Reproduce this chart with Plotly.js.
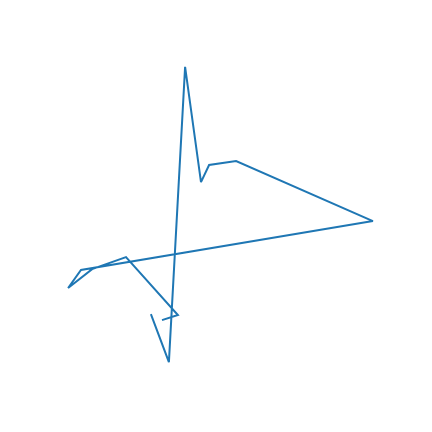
<!DOCTYPE html>
<html>
<head>
<meta charset="utf-8">
<script src="https://cdn.plot.ly/plotly-3.0.1.min.js"></script>
<style>html,body{margin:0;padding:0;background:#fff;}#chart{width:432px;height:432px;}</style>
</head>
<body>
<div id="chart"></div>
<script>
const xValues = [-2.17, -1.57, -1.03, -0.5, -0.23, 0.67, 5.23, -4.5, -4.93, -4.13, -3.0, -1.27, -1.8];
const yValues = [-3.27, -4.87, 4.97, 1.13, 1.7, 1.83, -0.17, -1.8, -2.4, -1.77, -1.37, -3.3, -3.47];

Plotly.newPlot('chart', [{
  x: xValues,
  y: yValues,
  type: 'scatter',
  mode: 'lines',
  line: {color: '#1f77b4', width: 2},
  hoverinfo: 'skip'
}], {
  width: 432,
  height: 432,
  margin: {l: 0, r: 0, t: 0, b: 0},
  paper_bgcolor: '#ffffff',
  plot_bgcolor: '#ffffff',
  showlegend: false,
  xaxis: {range: [-7.2, 7.2], visible: false},
  yaxis: {range: [-7.2, 7.2], visible: false}
}, {displayModeBar: false, staticPlot: true});
</script>
</body>
</html>
